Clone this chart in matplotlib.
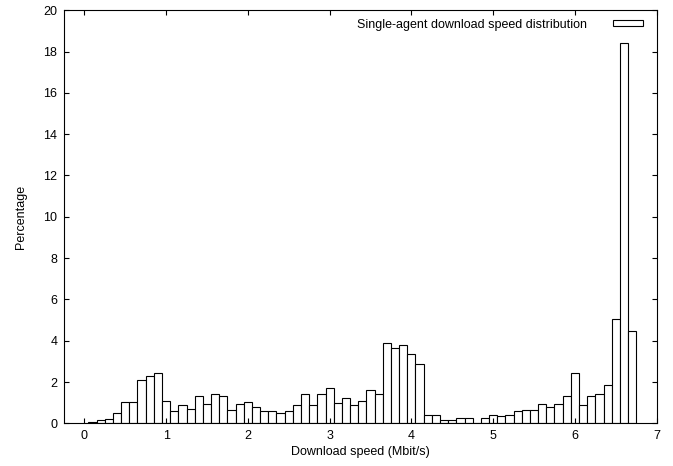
import numpy as np
import matplotlib.pyplot as plt

plt.rcParams['font.family'] = ['Liberation Sans', 'DejaVu Sans']

# bin centres (Mbit/s) and percentage of samples in each bin
speeds = [0.1, 0.2, 0.3, 0.4, 0.5, 0.6, 0.7, 0.8, 0.9, 1.0,
          1.1, 1.2, 1.3, 1.4, 1.5, 1.6, 1.7, 1.8, 1.9, 2.0,
          2.1, 2.2, 2.3, 2.4, 2.5, 2.6, 2.7, 2.8, 2.9, 3.0,
          3.1, 3.2, 3.3, 3.4, 3.5, 3.6, 3.7, 3.8, 3.9, 4.0,
          4.1, 4.2, 4.3, 4.4, 4.5, 4.6, 4.7, 4.8, 4.9, 5.0,
          5.1, 5.2, 5.3, 5.4, 5.5, 5.6, 5.7, 5.8, 5.9, 6.0,
          6.1, 6.2, 6.3, 6.4, 6.5, 6.6, 6.7]
percent = [0.07, 0.15, 0.22, 0.51, 1.02, 1.02, 2.08, 2.31, 2.45, 1.08,
           0.58, 0.87, 0.71, 1.3, 0.95, 1.44, 1.3, 0.66, 0.95, 1.02,
           0.8, 0.58, 0.58, 0.5, 0.58, 0.87, 1.44, 0.87, 1.44, 1.73,
           1.0, 1.22, 0.87, 1.08, 1.59, 1.44, 3.88, 3.66, 3.8, 3.37,
           2.89, 0.42, 0.42, 0.15, 0.15, 0.28, 0.28, 0.0, 0.28, 0.42,
           0.36, 0.42, 0.58, 0.66, 0.66, 0.93, 0.79, 0.93, 1.3, 2.45,
           0.87, 1.3, 1.44, 1.87, 5.05, 18.4, 4.48]

fig = plt.figure(figsize=(6.73, 4.66), dpi=100)
ax = fig.add_axes([0.0955, 0.0916, 0.8803, 0.8864])

ax.bar(speeds, percent, width=0.1, color='white', edgecolor='black',
       linewidth=0.8, label='Single-agent download speed distribution')

ax.set_xlim(-0.245, 7)
ax.set_ylim(0, 20)
ax.set_xticks(range(0, 8))
ax.set_yticks(range(0, 21, 2))
ax.tick_params(direction='in', top=True, right=True, length=3.6,
               width=0.8, labelsize=9, pad=5)
for s in ax.spines.values():
    s.set_linewidth(0.8)

ax.set_xlabel('Download speed (Mbit/s)', fontsize=9, labelpad=3)
ax.set_ylabel('Percentage', fontsize=9, labelpad=12)

ax.legend(loc='upper right', bbox_to_anchor=(0.996, 1.007), frameon=False,
          fontsize=9, markerfirst=False, handlelength=2.4, handleheight=0.4,
          borderaxespad=0.5, handletextpad=2.1)

fig.savefig('out.png', dpi=100)
